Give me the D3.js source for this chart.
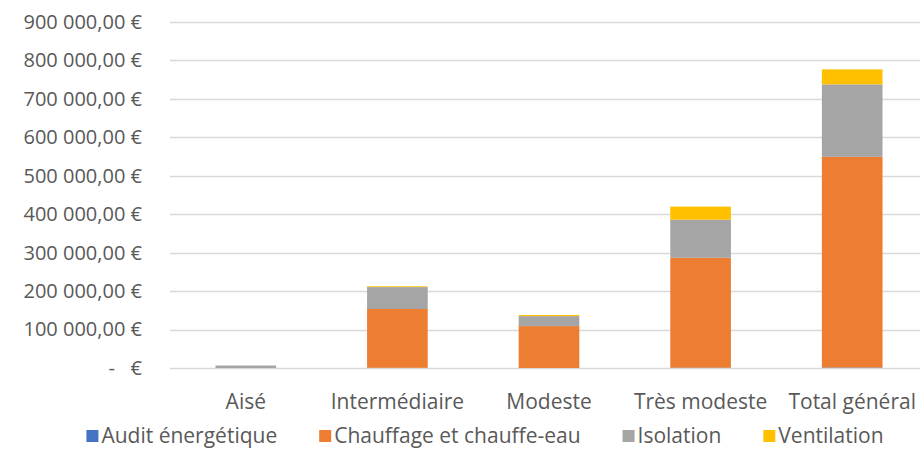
<!DOCTYPE html>
<html>
<head>
<meta charset="utf-8">
<script src="https://cdn.jsdelivr.net/npm/d3@7"></script>
<style>
  html, body { margin: 0; padding: 0; background: #fff; }
  svg { display: block; }
  text { font-family: "Open Sans", Lato, sans-serif; fill: #595959; }
</style>
</head>
<body>
<svg id="chart" width="920" height="450"></svg>
<script>
const categories = ["Aisé", "Intermédiaire", "Modeste", "Très modeste", "Total général"];
const seriesNames = ["Audit énergétique", "Chauffage et chauffe-eau", "Isolation", "Ventilation"];
const audit       = [0, 500, 0, 800, 1300];
const chauffage   = [0, 153000, 109000, 286000, 548000];
const isolation   = [6500, 57000, 26000, 99000, 188500];
const ventilation = [0, 2000, 3000, 34000, 39000];
const yTicks = [0, 100000, 200000, 300000, 400000, 500000, 600000, 700000, 800000, 900000];
const colors = ["#4472C4", "#ED7D31", "#A5A5A5", "#FFC000"];

const seriesValues = [audit, chauffage, isolation, ventilation];
const rows = categories.map((c, i) => {
  const r = { cat: c };
  seriesNames.forEach((s, k) => r[s] = seriesValues[k][i]);
  return r;
});

const FS_Y = 20, FS = 21;
const svg = d3.select("#chart");
const x = d3.scaleBand().domain(categories).range([170, 928]).paddingInner(0.6).paddingOuter(0.3);
const y = d3.scaleLinear().domain([0, 900000]).range([368, 22]);

const fmt = v => {
  if (v === 0) return "-   €";
  const s = d3.format(",.2f")(v).replace(/,/g, " ").replace(".", ",");
  return s + " €";
};

// gridlines
svg.append("g").selectAll("line").data(yTicks).join("line")
  .attr("x1", 170).attr("x2", 920)
  .attr("y1", d => Math.round(y(d)) + 0.5).attr("y2", d => Math.round(y(d)) + 0.5)
  .attr("stroke", "#D9D9D9").attr("stroke-width", 1.5);

// y axis labels
const yAxis = d3.axisLeft(y).tickValues(yTicks).tickFormat(fmt).tickSize(0).tickPadding(0);
const gy = svg.append("g").attr("transform", "translate(142,0)").call(yAxis);
gy.select(".domain").remove();
gy.selectAll("text").attr("font-size", FS_Y).attr("fill", "#595959")
  .style("white-space", "pre").attr("font-family", "'Open Sans', sans-serif");

// stacked bars
const stack = d3.stack().keys(seriesNames)(rows);
svg.append("g").selectAll("g").data(stack).join("g")
  .attr("fill", (d, i) => colors[i])
  .selectAll("rect").data(d => d).join("rect")
  .attr("x", d => x(d.data.cat))
  .attr("width", x.bandwidth())
  .attr("y", d => y(d[1]))
  .attr("height", d => Math.max(0, y(d[0]) - y(d[1])));

// x axis labels
const xAxis = d3.axisBottom(x).tickSize(0).tickPadding(0);
const gx = svg.append("g").call(xAxis);
gx.select(".domain").remove();
gx.selectAll("text").attr("font-size", FS).attr("fill", "#595959")
  .attr("font-family", "'Open Sans', sans-serif").attr("y", 409).attr("dy", null);

// legend
const legend = svg.append("g");
const items = legend.selectAll("g").data(seriesNames).join("g");
items.append("rect").attr("width", 12).attr("height", 12).attr("y", -13)
  .attr("fill", (d, i) => colors[i]);
items.append("text").attr("x", 15).attr("y", 0).attr("font-size", FS)
  .text(d => d);
let widths = [];
items.each(function () { widths.push(this.getBBox().width); });
const gap = 42;
const total = d3.sum(widths) + gap * (widths.length - 1);
let cx = 485 - total / 2;
items.attr("transform", (d, i) => {
  const t = `translate(${cx},443)`;
  cx += widths[i] + gap;
  return t;
});
</script>
</body>
</html>
